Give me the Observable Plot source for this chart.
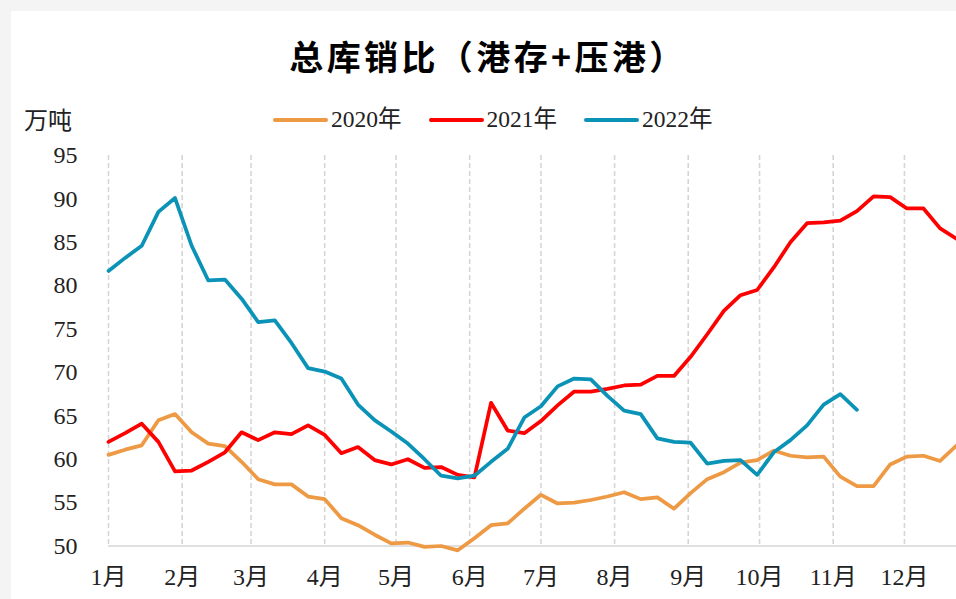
<!DOCTYPE html>
<html>
<head>
<meta charset="utf-8">
<script src="https://cdn.jsdelivr.net/npm/d3@7"></script>
<script src="https://cdn.jsdelivr.net/npm/@observablehq/plot@0.6"></script>
<style>
  html, body { margin: 0; padding: 0; width: 956px; height: 599px; overflow: hidden; background: #f4f4f4; }
  #panel { position: absolute; left: 11px; top: 11px; width: 945px; height: 588px; background: #fff; }
  #chart { position: absolute; left: 0; top: 0; }
  #title { position: absolute; left: 0; width: 956px; top: 39px; text-align: center;
    font-family: "Noto Sans CJK SC", sans-serif; font-weight: 700; font-size: 34px; letter-spacing: 3.4px; color: #000; line-height: 1; padding-left: 20px; box-sizing: border-box; }
  #unit { position: absolute; left: 24px; top: 107px; font-family: "Noto Sans CJK SC", sans-serif; font-size: 24px; line-height: 1; color: #222; }
  #legend { position: absolute; left: 273px; top: 108px; display: flex; align-items: center;
    font-family: "Liberation Serif", "Noto Sans CJK SC", serif; font-size: 23.5px; color: #222; line-height: 1; }
  .item { display: flex; align-items: center; margin-right: 27px; }
  .sw { width: 55px; height: 4px; border-radius: 2px; margin-right: 3px; }
</style>
</head>
<body>
<div id="panel"></div>
<div id="chart"></div>
<div id="title">总库销比（港存+压港）</div>
<div id="unit">万吨</div>
<div id="legend"></div>
<script>
// ---- data ----
const monthLabels = ["1月","2月","3月","4月","5月","6月","7月","8月","9月","10月","11月","12月"];
const monthStartDay = [0,31,60,91,121,152,182,213,244,274,305,335];
const yTicks = [50,55,60,65,70,75,80,85,90,95];
const seriesNames = ["2020年","2021年","2022年"];
const seriesColors = ["#EE9944","#FF0000","#0A93B7"];
// weekly values (万吨), week k sits at day 7*k
const v2020 = [60.5,61.1,61.6,64.5,65.2,63.1,61.8,61.5,59.7,57.7,57.1,57.1,55.7,55.4,53.2,52.4,51.3,50.3,50.4,49.9,50.0,49.5,50.9,52.4,52.6,54.3,55.9,54.9,55.0,55.3,55.7,56.2,55.4,55.6,54.3,56.1,57.7,58.5,59.6,59.9,61.0,60.4,60.2,60.3,58.0,56.9,56.9,59.4,60.3,60.4,59.8,61.6];
const v2021 = [62.0,63.0,64.1,62.0,58.6,58.7,59.7,60.8,63.1,62.2,63.1,62.9,63.9,62.8,60.7,61.4,59.9,59.4,60.0,59.0,59.1,58.2,57.9,66.5,63.3,63.0,64.4,66.2,67.8,67.8,68.1,68.5,68.6,69.6,69.6,71.8,74.4,77.1,78.9,79.5,82.1,85.0,87.2,87.3,87.5,88.6,90.3,90.2,88.9,88.9,86.6,85.4];
const v2022 = [81.7,83.2,84.6,88.5,90.1,84.6,80.6,80.7,78.5,75.8,76.0,73.4,70.5,70.1,69.3,66.3,64.5,63.2,61.8,60.0,58.1,57.8,58.1,59.7,61.2,64.8,66.1,68.4,69.3,69.2,67.3,65.6,65.2,62.4,62.0,61.9,59.5,59.8,59.9,58.2,60.8,62.2,63.9,66.3,67.5,65.7];

const allSeries = [v2020, v2021, v2022];
const rows = [];
allSeries.forEach((vals, s) => vals.forEach((v, k) => rows.push({series: seriesNames[s], day: k * 7, value: v})));
const labelByDay = new Map(monthStartDay.map((d, i) => [d, monthLabels[i]]));
const axisFont = "'Liberation Serif','Noto Sans CJK SC',serif";

const chart = Plot.plot({
  width: 956,
  height: 599,
  marginTop: 155,
  marginBottom: 53.5,
  marginLeft: 108,
  marginRight: 0,
  style: {background: "transparent", fontFamily: axisFont, fontSize: "24px", color: "#222", overflow: "hidden"},
  x: {domain: [0, 356.9]},
  y: {domain: [50, 95]},
  color: {domain: seriesNames, range: seriesColors},
  marks: [
    Plot.gridX(monthStartDay, {stroke: "#d6d6d6", strokeOpacity: 1, strokeWidth: 1.6, strokeDasharray: "5,3"}),
    Plot.ruleY([50], {stroke: "#d6d6d6", strokeWidth: 1.6}),
    Plot.axisY(yTicks, {tickSize: 0, tickPadding: 31, label: null, fontSize: 24, fontFamily: axisFont, tickFormat: d => String(d)}),
    Plot.axisX(monthStartDay, {tickSize: 0, tickPadding: 22, label: null, fontSize: 24, fontFamily: axisFont, tickFormat: d => labelByDay.get(d)}),
    Plot.line(rows, {x: "day", y: "value", z: "series", stroke: "series", strokeWidth: 3.75, strokeLinejoin: "round", strokeLinecap: "round"})
  ]
});
document.getElementById("chart").appendChild(chart);

const legend = document.getElementById("legend");
seriesNames.forEach((name, i) => {
  const it = document.createElement("div");
  it.className = "item";
  const sw = document.createElement("div");
  sw.className = "sw";
  sw.style.background = seriesColors[i];
  const t = document.createElement("span");
  t.textContent = name;
  it.appendChild(sw); it.appendChild(t);
  legend.appendChild(it);
});
</script>
</body>
</html>
